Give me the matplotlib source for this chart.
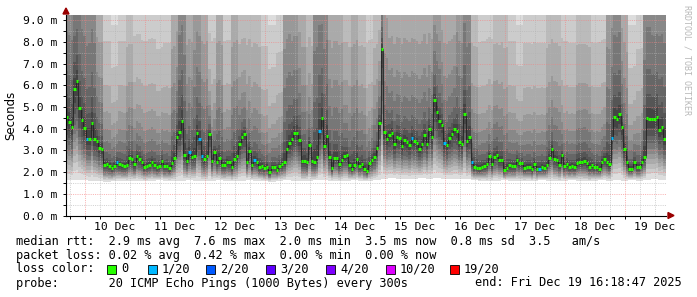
import numpy as np
import matplotlib
matplotlib.use("Agg")
import matplotlib.pyplot as plt
from matplotlib.patches import Rectangle, Polygon

# median rtt in ms, one value per hour, 9 Dec 16:18 .. 19 Dec 16:18
median = [
    4.55, 4.32, 4.06, 5.83, 6.18, 4.94, 4.40, 4.05, 3.54, 3.54,
    4.28, 3.51, 3.43, 3.11, 3.08, 2.34, 2.37, 2.28, 2.20, 2.30,
    2.47, 2.37, 2.31, 2.28, 2.34, 2.63, 2.59, 2.36, 2.73, 2.62,
    2.48, 2.25, 2.30, 2.34, 2.47, 2.34, 2.25, 2.27, 2.51, 2.27,
    2.30, 2.19, 2.43, 2.63, 3.60, 3.83, 4.35, 2.80, 2.51, 2.91,
    2.71, 2.76, 3.82, 3.54, 2.76, 2.59, 2.76, 3.74, 2.51, 2.94,
    2.48, 2.63, 2.34, 2.34, 2.48, 2.45, 2.24, 2.59, 2.74, 3.28,
    3.63, 3.74, 2.48, 2.99, 2.31, 2.56, 2.47, 2.22, 2.28, 2.19,
    2.25, 2.00, 2.25, 2.25, 2.10, 2.28, 2.37, 2.47, 3.05, 3.33,
    3.51, 3.79, 3.82, 3.48, 2.50, 2.51, 2.45, 3.25, 2.53, 2.47,
    2.68, 3.88, 4.49, 3.20, 3.66, 2.71, 2.19, 2.65, 2.65, 2.37,
    2.56, 2.74, 2.77, 2.33, 2.16, 2.31, 2.59, 2.28, 2.37, 2.16,
    2.07, 2.40, 2.56, 2.71, 3.10, 4.28, 7.67, 3.83, 3.54, 3.69,
    3.82, 3.29, 3.63, 3.57, 3.20, 3.48, 3.39, 3.23, 3.57, 3.45,
    3.33, 3.08, 3.29, 3.69, 3.29, 3.97, 3.60, 5.32, 4.77, 4.37,
    4.17, 3.33, 3.23, 3.58, 3.76, 4.00, 3.88, 3.39, 3.29, 4.66,
    3.42, 3.61, 2.47, 2.25, 2.19, 2.19, 2.25, 2.28, 2.37, 2.74,
    2.37, 2.71, 2.79, 2.56, 2.56, 2.10, 2.19, 2.31, 2.28, 2.28,
    2.56, 2.43, 2.43, 2.19, 2.25, 2.25, 2.13, 2.37, 2.16, 2.16,
    2.25, 2.19, 2.34, 2.65, 3.08, 2.62, 2.56, 2.34, 2.77, 2.28,
    2.37, 2.25, 2.28, 2.25, 2.40, 2.48, 2.48, 2.53, 2.43, 2.25,
    2.31, 2.22, 2.25, 2.16, 2.47, 2.62, 2.48, 2.37, 3.57, 4.52,
    4.43, 4.68, 4.06, 3.08, 2.47, 2.16, 2.16, 2.47, 2.25, 2.25,
    2.47, 2.71, 4.48, 4.46, 4.46, 4.43, 4.55, 3.94, 4.06, 3.54,
]
# hours where 1 of 20 pings was lost
loss_1 = [8, 20, 49, 53, 54, 75, 101, 138, 151, 162, 189, 218]

# smoke, one value per 3 hours: lowest ping and upper spread (ms)
smoke_lo = [
    1.62, 1.65, 1.62, 1.60, 1.58, 1.56, 1.58, 1.60, 1.58, 1.60,
    1.58, 1.60, 1.62, 1.60, 1.58, 1.60, 1.62, 1.60, 1.58, 1.60,
    1.62, 1.60, 1.58, 1.60, 1.62, 1.60, 1.58, 1.56, 1.60, 1.62,
    1.60, 1.58, 1.60, 1.62, 1.64, 1.60, 1.58, 1.60, 1.62, 1.60,
    1.58, 1.62, 1.70, 1.72, 1.70, 1.68, 1.70, 1.72, 1.70, 1.72,
    1.70, 1.68, 1.70, 1.66, 1.62, 1.60, 1.58, 1.60, 1.62, 1.60,
    1.58, 1.60, 1.60, 1.62, 1.60, 1.58, 1.60, 1.62, 1.60, 1.58,
    1.60, 1.62, 1.60, 1.64, 1.60, 1.62, 1.60, 1.64, 1.66, 1.64,
]
smoke_hi = [
    35.0, 41.0, 36.5, 37.6, 19.4, 10.5, 8.8, 10.5, 14.4, 10.8,
    10.5, 10.6, 10.0, 10.4, 19.9, 38.3, 20.3, 27.2, 20.3, 10.4,
    20.7, 10.5, 20.6, 13.6, 14.4, 14.5, 10.2, 8.8, 9.8, 28.5,
    26.1, 20.0, 14.3, 41.7, 37.7, 20.6, 20.6, 14.4, 20.9, 14.6,
    10.5, 13.8, 22.1, 18.7, 18.9, 19.1, 19.0, 19.2, 18.7, 22.7,
    18.8, 18.4, 26.7, 37.0, 14.6, 10.5, 10.6, 14.3, 14.6, 10.5,
    8.8, 10.4, 10.4, 10.4, 14.3, 14.5, 10.5, 10.4, 14.5, 14.5,
    10.4, 10.5, 28.9, 33.7, 19.4, 8.8, 10.0, 37.0, 34.0, 37.3,
]

loss_names = ["0", "1/20", "2/20", "3/20", "4/20", "10/20", "19/20"]
loss_colors = ["#26ff00", "#00b8ff", "#0059ff", "#5e00ff", "#7e00ff", "#dd00ff", "#ff0000"]

W, H = 697, 297
mono = "DejaVu Sans Mono"

med = np.array(median)
n = len(med)
t0 = -0.3203  # days from 10 Dec 00:00
edges = t0 + np.arange(n + 1) / 24.0
lo = np.repeat(smoke_lo, 3)
hi = np.repeat(smoke_hi, 3)
top = 9.24

fig = plt.figure(figsize=(W / 100, H / 100), dpi=100)
ax = fig.add_axes([65.8 / W, (H - 215.5) / H, 600 / W, 200.5 / H])
ax.set_xlim(edges[0], edges[-1])
ax.set_ylim(0, top)

def ext(a):
    return np.r_[a, a[-1]]

# smoke layers, outer light to inner dark
ax.fill_between(edges, ext(lo), top + 1, step="post", color="#dddddd", lw=0, zorder=1)
up_f = [1.0, 0.7, 0.45, 0.3, 0.2, 0.13, 0.07, 0.035, 0.015]
dn_f = [0.9, 0.82, 0.74, 0.66, 0.58, 0.5, 0.4, 0.28, 0.15]
u = hi - med
d = med - lo
for k in range(9):
    g = 0xdd - 17 * (k + 1)
    c = "#%02x%02x%02x" % (g, g, g)
    ax.fill_between(edges, ext(med - dn_f[k] * d), ext(med + up_f[k] * u),
                    step="post", color=c, lw=0, zorder=1 + k * 0.01)

# grid
mgrid = (0.96, 0.5, 0.5, 0.6)
grid = (0.7, 0.7, 0.7, 0.6)
for v in np.arange(0.5, 9.01, 0.5):
    major = abs(v - round(v)) < 1e-6
    ax.axhline(v, color=mgrid if major else grid, lw=0.72, ls=(0, (1, 1.2)), zorder=3)
for x in np.arange(-0.25, 9.7, 0.25):
    major = abs(x - round(x)) < 1e-6
    ax.axvline(x, color=mgrid if major else grid, lw=0.72, ls=(0, (1, 1.2)), zorder=3)

# median line coloured by loss
ax.stairs(med, edges, baseline=None, color="#222222", lw=0.6, zorder=4)
cols = [loss_colors[1] if i in loss_1 else loss_colors[0] for i in range(n)]
ax.hlines(med, edges[:-1], edges[1:], colors=cols, lw=2.2, zorder=5, capstyle="butt")

for s in ["top", "right"]:
    ax.spines[s].set_visible(False)
for s in ["left", "bottom"]:
    ax.spines[s].set_linewidth(0.8)
    ax.spines[s].set_zorder(6)

yt = np.arange(0, 10)
ax.set_yticks(yt, ["%.1f m" % v for v in yt])
ax.set_yticks(np.arange(0.5, 9.01, 0.5), minor=True)
noons = np.arange(0.5, 10, 1.0)
ax.set_xticks(noons, ["%d Dec" % (10 + i) for i in range(len(noons))])
ax.set_xticks(np.arange(-0.25, 9.7, 0.25), minor=True)
ax.tick_params(axis="y", which="both", length=2, width=0.7, pad=4)
ax.tick_params(axis="x", which="major", length=0, pad=5)
ax.tick_params(axis="x", which="minor", length=2, width=0.7)
for lab in ax.get_xticklabels() + ax.get_yticklabels():
    lab.set_family(mono)
    lab.set_fontsize(8.2)

# axis arrows
fig.add_artist(Polygon([[66 / W, 1 - 8 / H], [63 / W, 1 - 14 / H], [69 / W, 1 - 14 / H]],
                       closed=True, color="#990000", transform=fig.transFigure))
fig.add_artist(Polygon([[674 / W, 1 - 215.5 / H], [668 / W, 1 - 212.5 / H], [668 / W, 1 - 218.5 / H]],
                       closed=True, color="#990000", transform=fig.transFigure))

fig.text(11 / W, 1 - 115 / H, "Seconds", rotation=90, ha="center", va="center",
         fontsize=8.5, family="DejaVu Sans")
fig.text(687 / W, 1 - 60 / H, "RRDTOOL / TOBI OETIKER", rotation=270, ha="center",
         va="center", fontsize=6, color="#b8b8b8", family=mono)

fs = 8.55
def line(y, s, x=16, ha="left"):
    fig.text(x / W, 1 - y / H, s, ha=ha, va="center", fontsize=fs, family=mono)

line(241, "median rtt:  2.9 ms avg  7.6 ms max  2.0 ms min  3.5 ms now  0.8 ms sd  3.5   am/s")
line(255, "packet loss: 0.02 % avg  0.42 % max  0.00 % min  0.00 % now")
line(269, "loss color:")
box_x = [107, 148, 206, 266, 326, 386, 450]
for bx, name, c in zip(box_x, loss_names, loss_colors):
    fig.add_artist(Rectangle((bx / W, 1 - 273.5 / H), 9 / W, 9 / H, facecolor=c,
                             edgecolor="black", lw=0.6, transform=fig.transFigure))
    line(269, name, x=bx + 14)
line(283, "probe:       20 ICMP Echo Pings (1000 Bytes) every 300s")
line(283, "end: Fri Dec 19 16:18:47 2025", x=682, ha="right")

fig.savefig("out.png", dpi=100)
